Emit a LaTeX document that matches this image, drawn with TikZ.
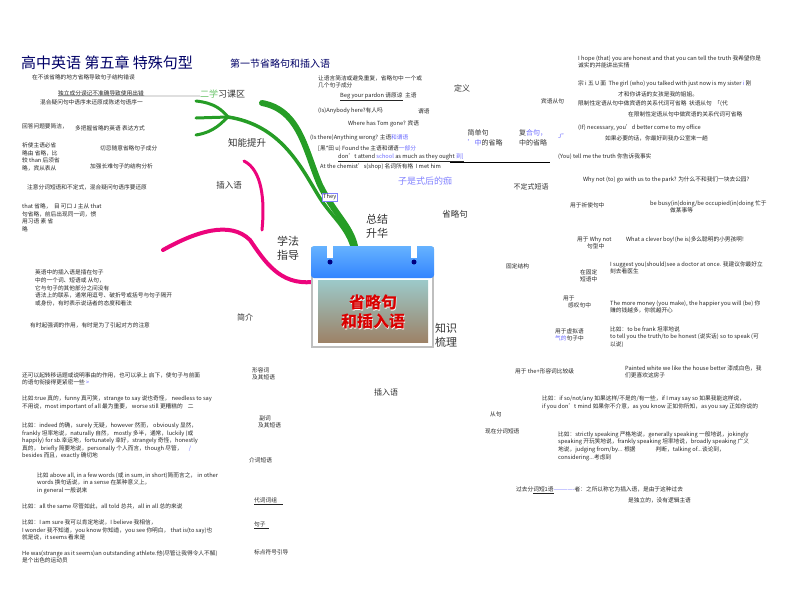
\documentclass[tikz,border=0pt]{standalone}
\usepackage{fontspec}
\setmainfont{Noto Sans CJK SC}
\begin{document}
\begin{tikzpicture}[x=1pt,y=-1pt,
 tx/.style={anchor=west,inner sep=0pt,font=\fontsize{5.7}{7.6}\selectfont,align=left,text=black!85},
 lb/.style={anchor=center,inner sep=0pt,font=\fontsize{11}{14}\selectfont,align=left,text=black!80},
 lbs/.style={anchor=center,inner sep=0pt,font=\fontsize{8}{10}\selectfont,align=left,text=black!80},
 gr/.style={draw=green!55!black!85,line cap=round},
 pk/.style={draw=magenta!85!red,line cap=round}]
\useasboundingbox (0,0) rectangle (800,598);
% branches
\draw[gr,line width=6pt] (262,103) .. controls (300,110) and (305,150) .. (320,185) .. controls (335,215) and (350,225) .. (355,246);
\draw[gr,line width=3pt] (196,101) .. controls (215,103) and (222,110) .. (228,117);
\draw[gr,line width=3pt] (196,118) -- (228,117);
\draw[gr,line width=3pt] (196,135) .. controls (215,132) and (222,122) .. (228,117);
\draw[gr,line width=3.5pt] (228,117) .. controls (280,125) and (300,165) .. (318,195) .. controls (330,215) and (345,225) .. (352,246);
\draw[pk,line width=4pt] (163,250) .. controls (195,232) and (230,220) .. (250,240) .. controls (265,262) and (280,285) .. (312,282);
\draw[pk,line width=3pt] (244,161) .. controls (262,170) and (265,200) .. (262,230);
% calendar
\fill[black!25] (311,247) rectangle (434,348);
\fill[white] (313,247) rectangle (432,346);
\shade[top color=cyan!50!blue!60,bottom color=blue!60!cyan!80,rounded corners=3pt] (311,246) rectangle (434,278);
\shade[top color=cyan!30!gray!60,bottom color=brown!60!black!70] (318,280) rectangle (428,342);
\foreach \x in {330,414}{\fill[white] (\x-3,240) rectangle (\x+3,258);\fill[blue!50!black] (\x,262) circle (2.5);}
\node[name=calw,font=\bfseries\fontsize{16}{19}\selectfont,text=white,align=center,inner sep=0pt] at (373.6,312.6) {省略句\\和插入语};
\node[name=cal,font=\bfseries\fontsize{16}{19}\selectfont,text=red!85!black,align=center,inner sep=0pt] at (373,312) {省略句\\和插入语};
% title
\node[name=ti1,anchor=west,inner sep=0pt,font=\fontsize{15}{17}\selectfont,text=blue!40!black] at (21,63) {高中英语\ 第五章\ 特殊句型};
\node[name=ti2,anchor=west,inner sep=0pt,font=\fontsize{10}{12}\selectfont,text=blue!40!black] at (230,64) {第一节省略句和插入语};
% left top
\node[tx,name=a1] at (32,77) {在不该省略的地方省略导致句子结构错误};
\node[tx,name=a2] at (58,93) {独立成分误记不准确导致使用出错};
\draw (a2.south west) -- (200,96);
\node[tx,name=a3] at (40,102) {混合疑问句中语序未还原成陈述句语序一};
\node[name=b1,lb,font=\fontsize{9}{11}\selectfont,anchor=west] at (200,94) {\textcolor{green!60!black!60}{二学}习课区};
\node[tx,name=a4] at (22,126) {回答问题要简洁，};
\node[tx,name=a5] at (75,128) {多把握省略的英语 表达方式};
\node[tx,name=a6] at (22,157) {祈使主语必省\\略由 省略，比\\较 than 后须省\\略，宾从表从};
\node[tx,name=a7] at (100,148) {切忌随意省略句子成分};
\node[tx,name=a8] at (90,166) {加强长难句子的结构分析};
\node[lb,name=b2,font=\fontsize{9.5}{11}\selectfont] at (247,143) {知能提升};
\node[tx,name=a9] at (27,187) {注意分词短语和不定式，混合疑问句语序要还原};
\node[lb,name=b3,font=\fontsize{8.5}{11}\selectfont] at (229,185) {插入语};
\node[tx,name=a10] at (22,218) {that 省略，\ \ 目 可口 J 主从 that\\句省略，前后出现同一词，惯\\用习语 素 省\\略};
\node[lb,name=b4] at (288,248) {学法\\指导};
\node[lb,name=b5] at (377,226) {总结\\升华};
\node[tx,name=a11,draw=blue!50,fill=white,inner sep=1pt] at (322,197) {They};
\node[name=a12,anchor=center,inner sep=0pt,font=\fontsize{9}{11}\selectfont,text=blue!50] at (425,181) {子是式后的痂};
% middle top
\node[tx,name=c1] at (318,82) {让语言简洁或避免重复，省略句中 一个或\\几个句子成分};
\node[lbs,name=c2] at (462,88) {定义};
\node[tx,name=c3] at (340,97) {\underline{Beg your pardon 请原谅}\ \ 主语};
\node[tx,name=c4] at (318,111) {(Is)Anybody here?有人吗};
\node[tx,name=c5] at (418,111) {谓语};
\node[tx,name=c6] at (348,124) {Where has Tom gone? 宾语};
\node[tx,name=c7] at (310,138) {(Is there)Anything wrong? 主语\textcolor{blue!60}{和谓语}};
\node[tx,name=c8] at (318,149) {[黑*田 u) Found the 主语和谓语\textcolor{blue!60}{一部分}};
\node[tx,name=c9] at (338,158) {\underline{don't attend \textcolor{blue!60}{school} as much as they ought \textcolor{blue!60}{到]}}};
\draw (450,162) -- (550,162);
\node[tx,name=c10] at (320,167) {At the chemist's(shop) 名词所有格\ \ I met him};
\node[lbs,name=c11,font=\fontsize{7}{10}\selectfont] at (485,138) {简单句\\\textcolor{blue!60}{'中}的省略};
\node[lbs,name=c12,font=\fontsize{7}{10}\selectfont] at (533,138) {复\textcolor{blue!60}{合句，}\\中的省略};
\node[tx,name=c13,text=blue!60] at (558,136) {J''};
\node[tx,name=c14] at (541,101) {宾语从句};
\node[lbs,name=c15,font=\fontsize{7}{9}\selectfont] at (531,187) {不定式短语};
\node[lbs,name=c16,font=\fontsize{8.5}{10}\selectfont] at (455,214) {省略句};
% right column
\node[tx,name=r1] at (578,62) {I hope (that) you are honest and that you can tell the truth 我希望你是\\诚实的并能讲出实情};
\node[tx,name=r2] at (578,84) {宗 i 五 U 面\ \ The girl (who) you talked with just now is my sister \textcolor{blue!60}{i} 刚};
\node[tx,name=r3] at (618,94) {才和你讲话的女孩是我的姐姐。};
\node[tx,name=r4] at (578,104) {限制性定语从句中做宾语的关系代词可省略\ \ 状语从句\ \ 「(代};
\node[tx,name=r5] at (628,114) {在限制性定语从句中做宾语的关系代词可省略};
\node[tx,name=r6] at (578,128) {(If) necessary, you'd better come to my office};
\node[tx,name=r7] at (605,138) {如果必要的话，你最好到我办公室来一趟};
\node[tx,name=r8] at (558,157) {(You) tell me the truth 你告诉我事实};
\node[tx,name=r9] at (583,180) {Why not (to) go with us to the park? 为什么不和我们一块去公园?};
\node[tx,name=r10] at (570,205) {用于祈使句中};
\node[tx,name=r11] at (650,207) {be busy(in)doing/be occupied(in)doing 忙于\\\hspace*{20pt}做某事等};
\node[tx,name=r12] at (577,243) {用于 Why not\\\hspace*{10pt}句型中};
\node[tx,name=r13] at (626,240) {What a clever boy!(he is)多么聪明的小男孩啊!};
\node[tx,name=r14] at (506,266) {固定结构};
\node[tx,name=r15] at (580,276) {在固定\\短语中};
\node[tx,name=r16] at (610,268) {I suggest you(should)see a doctor at once. 我建议你最好立\\刻去看医生};
\node[tx,name=r17] at (563,302) {用于\\\hspace*{5pt}感叹句中};
\node[tx,name=r18] at (610,307) {The more money (you make), the happier you will (be) 你\\赚的钱越多，你就越开心};
\node[lb,name=r19] at (446,335) {知识\\梳理};
\node[tx,name=r20] at (555,335) {用于虚拟语\\\textcolor{blue!60}{气的}句子中};
\node[tx,name=r21] at (610,337) {比如：to be frank 坦率地说\\to tell you the truth/to be honest (说实话) so to speak (可\\以说)};
\node[tx,name=r22] at (515,371) {用于 the+形容词比较级};
\node[tx,name=r23] at (625,372) {Painted white we like the house better 漆成白色，我\\们更喜欢这房子};
\node[tx,name=r24] at (542,403) {比如：if so/not/any 如果这样/不是的/有一些，if I may say so 如果我能这样说，\\if you don't mind 如果你不介意，as you know 正如你所知，as you say 正如你说的};
\node[tx,name=r25] at (490,414) {从句};
\node[tx,name=r26] at (485,431) {现在分词短语};
\node[tx,name=r27] at (558,446) {比如：strictly speaking 严格地说，generally speaking 一般地说，jokingly\\speaking 开玩笑地说，frankly speaking 坦率地说，broadly speaking 广义\\地说，judging from/by... 根据\hspace{20pt}判断，talking of...谈论到，\\considering...考虑到};
\node[tx,name=r28] at (516,490) {过去分\underline{词短1语}\textcolor{blue!60}{-------------}者：之所以称它为插入语，是由于这种过去};
\node[tx,name=r29] at (628,500) {是独立的，没有逻辑主语};
% left bottom
\node[tx,name=d1] at (35,288) {英语中的插入语是插在句子\\中的一个词、短语或 从句，\\它与句子的其他部分之间没有\\语法上的联系，通常用逗号、破折号或括号与句子隔开\\或身份，有时表示说话者的态度和看法};
\node[tx,name=d2] at (30,325) {有时起强调的作用，有时是为了引起对方的注意};
\node[lbs,name=d3] at (245,317) {简介};
\node[tx,name=d4] at (22,379) {还可以起转移话题或说明事由的作用，也可以承上\ 启下，使句子与前面\\的语句衔接得更紧密一些 \textcolor{blue!60}{>}};
\node[tx,name=e1] at (252,374) {形容词\\及其短语};
\node[tx,name=d5] at (22,403) {比如:true 真的，funny 真可笑，strange to say 说也奇怪， needless to say\\不用说，most important of all 最为重要， worse still 更糟糕的\ \ \ \ 二};
\node[tx,name=d6] at (22,441) {比如：indeed 的确，surely 无疑，however 然而， obviously 显然，\\frankly 坦率地说，naturally 自然， mostly 多半，通常，luckily (或\\happily) for sb.幸运地，fortunately 幸好，strangely 奇怪，honestly\\真的， briefly 简要地说，personally 个人而言，though 尽管，\ \ \ \ \ \textcolor{blue!60}{/}\\besides 而且，exactly 确切地};
\node[tx,name=e2] at (258,422) {\ 副词\\及其短语};
\node[tx,name=e3] at (249,460) {介词短语};
\node[tx,name=d7] at (37,483) {比如 above all, in a few words (或 in sum, in short)简而言之， in other\\words 换句话说，in a sense 在某种意义上，\\in general 一般说来};
\node[tx,name=e4] at (254,501) {\underline{代词词组\ \ \ \ \ }};
\node[tx,name=d8] at (22,506) {比如：all the same 尽管如此，all told 总共，all in all 总的来说};
\node[tx,name=e5] at (254,525) {\underline{句子\ \ \ }};
\node[tx,name=d9] at (22,530) {比如：I am sure 我可以肯定地说，I believe 我相信，\\I wonder 我不知道，you know 你知道，you see 你明白， that is(to say)也\\就是说，it seems 看来是};
\node[tx,name=e6] at (254,552) {标点符号引导};
\node[tx,name=d10] at (22,557) {He was(strange as it seems)an outstanding athlete.他(尽管让我得令人不解)\\是个出色的运动员};
\node[lbs,name=e7] at (386,392) {插入语};
\end{tikzpicture}
\end{document}
